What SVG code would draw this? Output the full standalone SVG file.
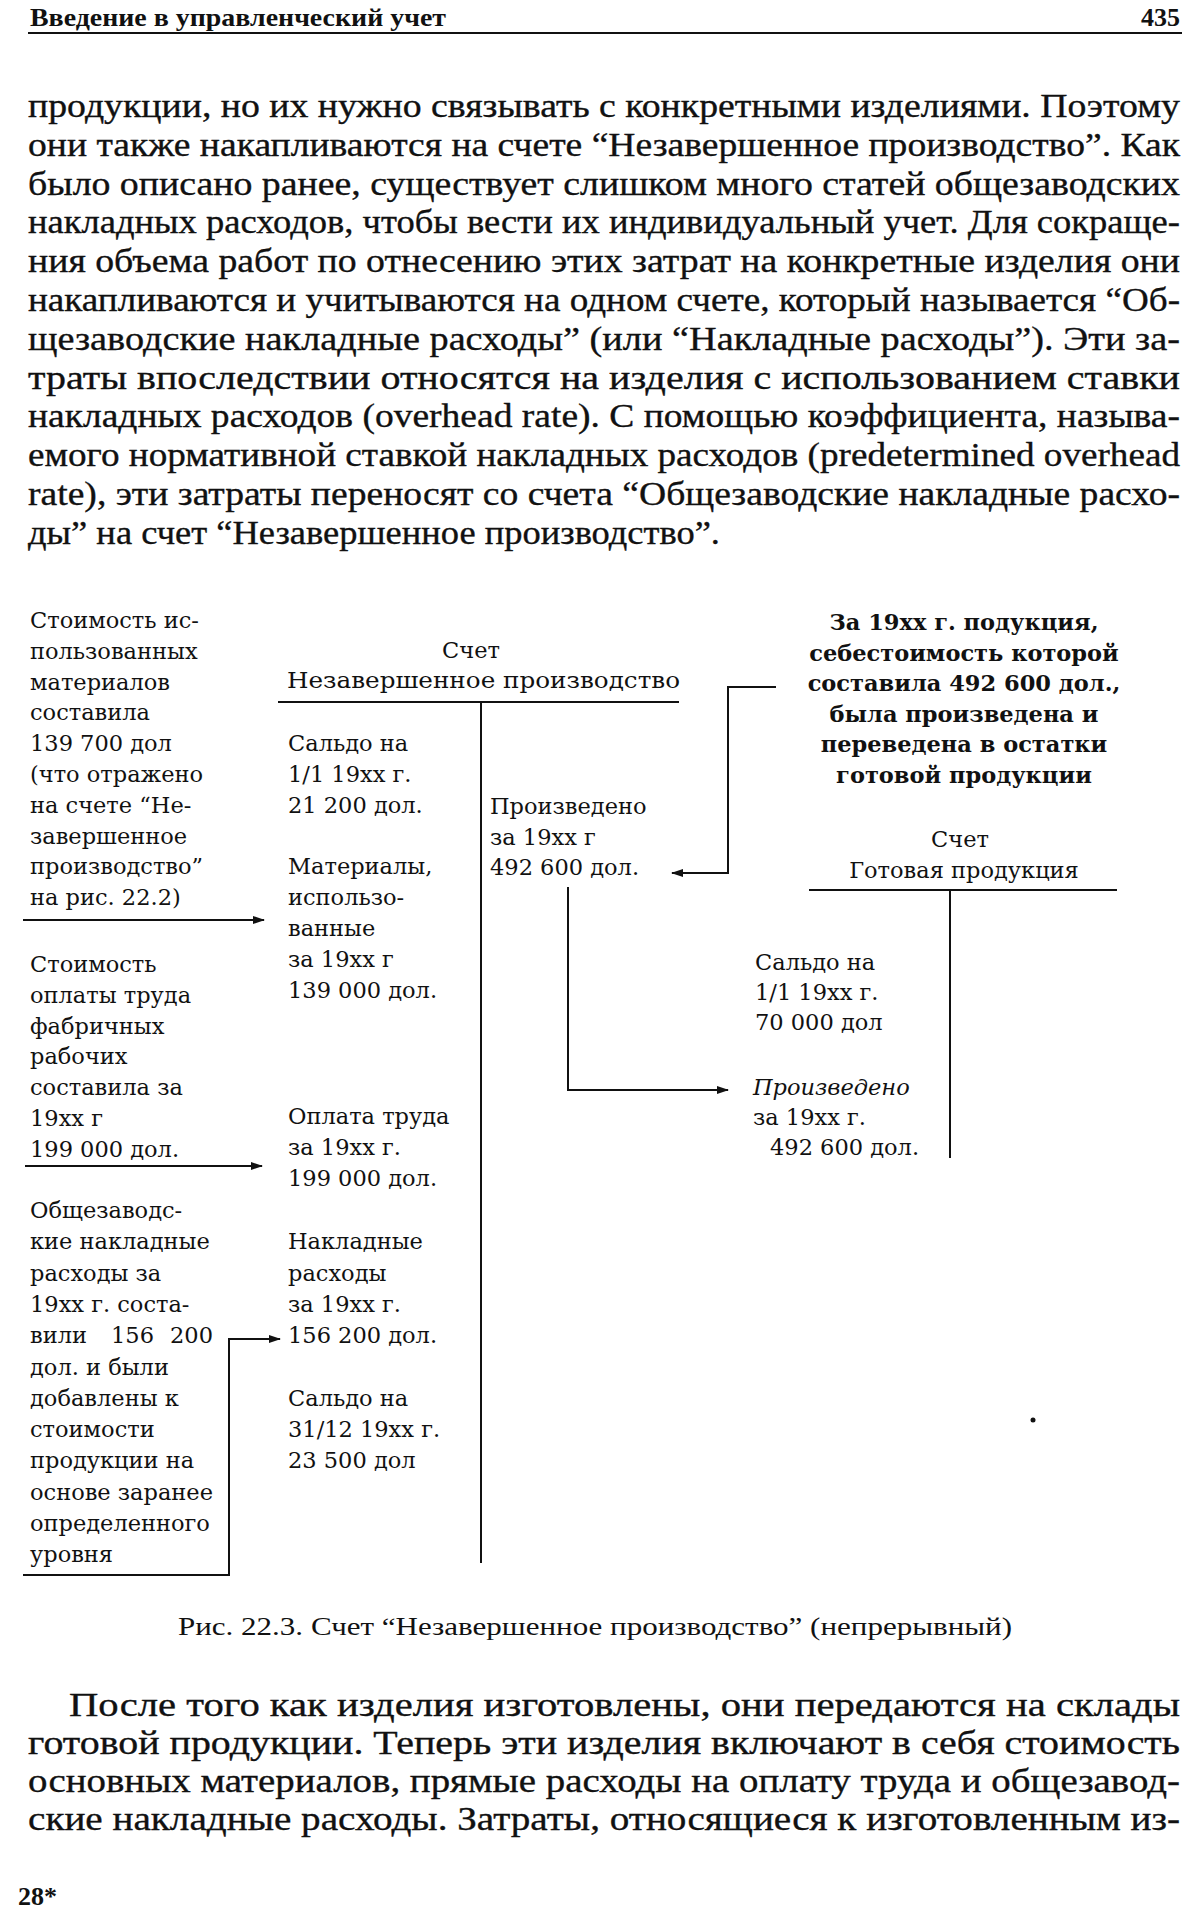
<svg xmlns="http://www.w3.org/2000/svg" width="1200" height="1912" viewBox="0 0 1200 1912">
<defs>
<style>
.p{font-family:"Liberation Serif","Times New Roman",serif;font-size:34px;fill:#111;stroke:#111;stroke-width:0.35}
.hd{font-family:"Liberation Serif","Times New Roman",serif;font-size:26px;font-weight:bold;fill:#111}
.cap{font-family:"Liberation Serif","Times New Roman",serif;font-size:25px;fill:#111}
.d{font-family:"DejaVu Serif",serif;font-size:22.5px;fill:#111}
.db{font-family:"DejaVu Serif",serif;font-size:22.5px;font-weight:bold;fill:#111}
.ln{stroke:#111;stroke-width:2;fill:none}
</style>
<marker id="ah" markerUnits="userSpaceOnUse" markerWidth="12" markerHeight="8" refX="11" refY="4" orient="auto">
<path d="M0,0 L12,4 L0,8 z" fill="#111"/>
</marker>
</defs>
<rect width="1200" height="1912" fill="#fff"/>

<g id="header">
<text class="hd" x="30" y="26" textLength="416" lengthAdjust="spacingAndGlyphs">Введение в управленческий учет</text>
<text class="hd" x="1180" y="26" text-anchor="end">435</text>
<line class="ln" x1="28" y1="33" x2="1182" y2="33" stroke-width="2.5"/>
</g>

<g id="paragraph1">
<text class="p" x="28" y="117" textLength="1152" lengthAdjust="spacingAndGlyphs">продукции, но их нужно связывать с конкретными изделиями. Поэтому</text>
<text class="p" x="28" y="155.8" textLength="1152" lengthAdjust="spacingAndGlyphs">они также накапливаются на счете “Незавершенное производство”. Как</text>
<text class="p" x="28" y="194.6" textLength="1152" lengthAdjust="spacingAndGlyphs">было описано ранее, существует слишком много статей общезаводских</text>
<text class="p" x="28" y="233.4" textLength="1152" lengthAdjust="spacingAndGlyphs">накладных расходов, чтобы вести их индивидуальный учет. Для сокраще-</text>
<text class="p" x="28" y="272.2" textLength="1152" lengthAdjust="spacingAndGlyphs">ния объема работ по отнесению этих затрат на конкретные изделия они</text>
<text class="p" x="28" y="311" textLength="1152" lengthAdjust="spacingAndGlyphs">накапливаются и учитываются на одном счете, который называется “Об-</text>
<text class="p" x="28" y="349.8" textLength="1152" lengthAdjust="spacingAndGlyphs">щезаводские накладные расходы”  (или “Накладные расходы”). Эти за-</text>
<text class="p" x="28" y="388.6" textLength="1152" lengthAdjust="spacingAndGlyphs">траты впоследствии относятся на изделия с использованием ставки</text>
<text class="p" x="28" y="427.4" textLength="1152" lengthAdjust="spacingAndGlyphs">накладных расходов (overhead rate). С помощью коэффициента, называ-</text>
<text class="p" x="28" y="466.2" textLength="1152" lengthAdjust="spacingAndGlyphs">емого нормативной ставкой накладных расходов (predetermined overhead</text>
<text class="p" x="28" y="505" textLength="1152" lengthAdjust="spacingAndGlyphs">rate), эти затраты переносят со счета “Общезаводские накладные расхо-</text>
<text class="p" x="28" y="543.8" textLength="692" lengthAdjust="spacingAndGlyphs">ды” на счет “Незавершенное производство”.</text>
</g>

<g id="note-materials">
<text class="d" x="30" y="628">Стоимость ис-</text>
<text class="d" x="30" y="658.8">пользованных</text>
<text class="d" x="30" y="689.6">материалов</text>
<text class="d" x="30" y="720.4">составила</text>
<text class="d" x="30" y="751.2">139 700 дол</text>
<text class="d" x="30" y="782">(что отражено</text>
<text class="d" x="30" y="812.8">на счете “Не-</text>
<text class="d" x="30" y="843.6">завершенное</text>
<text class="d" x="30" y="874.4">производство”</text>
<text class="d" x="30" y="905.2">на рис. 22.2)</text>
</g>

<g id="note-labor">
<text class="d" x="30" y="972">Стоимость</text>
<text class="d" x="30" y="1002.8">оплаты труда</text>
<text class="d" x="30" y="1033.6">фабричных</text>
<text class="d" x="30" y="1064.4">рабочих</text>
<text class="d" x="30" y="1095.2">составила за</text>
<text class="d" x="30" y="1126">19xx г</text>
<text class="d" x="30" y="1156.8">199 000 дол.</text>
</g>

<g id="note-overhead">
<text class="d" x="30" y="1218">Общезаводс-</text>
<text class="d" x="30" y="1249.3">кие накладные</text>
<text class="d" x="30" y="1280.6">расходы за</text>
<text class="d" x="30" y="1311.9">19xx г. соста-</text>
<text class="d" y="1343.2"><tspan x="30">вили</tspan><tspan x="111">156</tspan><tspan x="170">200</tspan></text>
<text class="d" x="30" y="1374.5">дол. и были</text>
<text class="d" x="30" y="1405.8">добавлены к</text>
<text class="d" x="30" y="1437.1">стоимости</text>
<text class="d" x="30" y="1468.4">продукции на</text>
<text class="d" x="30" y="1499.7">основе заранее</text>
<text class="d" x="30" y="1531">определенного</text>
<text class="d" x="30" y="1562.3">уровня</text>
</g>

<g id="account-wip">
<text class="d" x="471" y="658" text-anchor="middle">Счет</text>
<text class="d" x="287" y="688" textLength="393" lengthAdjust="spacingAndGlyphs">Незавершенное производство</text>
<text class="d" x="288" y="751.2">Сальдо на</text>
<text class="d" x="288" y="782">1/1 19xx г.</text>
<text class="d" x="288" y="812.8">21 200 дол.</text>
<text class="d" x="288" y="874.4">Материалы,</text>
<text class="d" x="288" y="905.2">использо-</text>
<text class="d" x="288" y="936">ванные</text>
<text class="d" x="288" y="966.8">за 19xx г</text>
<text class="d" x="288" y="997.6">139 000 дол.</text>
<text class="d" x="288" y="1124">Оплата труда</text>
<text class="d" x="288" y="1155">за 19xx г.</text>
<text class="d" x="288" y="1186">199 000 дол.</text>
<text class="d" x="288" y="1249.3">Накладные</text>
<text class="d" x="288" y="1280.6">расходы</text>
<text class="d" x="288" y="1311.9">за 19xx г.</text>
<text class="d" x="288" y="1343.2">156 200 дол.</text>
<text class="d" x="288" y="1405.8">Сальдо на</text>
<text class="d" x="288" y="1437.1">31/12 19xx г.</text>
<text class="d" x="288" y="1468.4">23 500 дол</text>
<text class="d" x="490" y="814">Произведено</text>
<text class="d" x="490" y="845">за 19xx г</text>
<text class="d" x="490" y="875">492 600 дол.</text>
</g>

<g id="note-finished">
<text class="db" x="964" y="630" text-anchor="middle">За 19xx г. подукция,</text>
<text class="db" x="964" y="660.5" text-anchor="middle">себестоимость которой</text>
<text class="db" x="964" y="691" text-anchor="middle">составила 492 600 дол.,</text>
<text class="db" x="964" y="721.5" text-anchor="middle">была произведена и</text>
<text class="db" x="964" y="752" text-anchor="middle">переведена в остатки</text>
<text class="db" x="964" y="782.5" text-anchor="middle">готовой продукции</text>
</g>

<g id="account-finished">
<text class="d" x="960" y="847" text-anchor="middle">Счет</text>
<text class="d" x="964" y="878" text-anchor="middle">Готовая продукция</text>
<text class="d" x="755" y="970">Сальдо на</text>
<text class="d" x="755" y="1000">1/1 19xx г.</text>
<text class="d" x="755" y="1030">70 000 дол</text>
<text class="d" x="753" y="1095" font-style="italic">Произведено</text>
<text class="d" x="753" y="1125">за 19xx г.</text>
<text class="d" x="770" y="1155">492 600 дол.</text>
</g>

<g id="connectors">
<line class="ln" x1="23" y1="920" x2="264" y2="920" marker-end="url(#ah)"/>
<line class="ln" x1="25" y1="1166" x2="262" y2="1166" marker-end="url(#ah)"/>
<polyline class="ln" points="23,1575 229,1575 229,1339 280,1339" marker-end="url(#ah)"/>
<line class="ln" x1="278" y1="702" x2="679" y2="702"/>
<line class="ln" x1="481" y1="702" x2="481" y2="1563"/>
<polyline class="ln" points="776,687 728,687 728,873 672,873" marker-end="url(#ah)"/>
<polyline class="ln" points="568,887 568,1090 728,1090" marker-end="url(#ah)"/>
<line class="ln" x1="809" y1="890" x2="1117" y2="890"/>
<line class="ln" x1="950" y1="890" x2="950" y2="1158"/>
<circle cx="1033" cy="1420" r="2.5" fill="#111"/>
</g>

<g id="caption">
<text class="cap" x="178" y="1635" textLength="834" lengthAdjust="spacingAndGlyphs">Рис. 22.3. Счет “Незавершенное производство” (непрерывный)</text>
</g>

<g id="paragraph2">
<text class="p" x="69" y="1716" textLength="1111" lengthAdjust="spacingAndGlyphs">После того как изделия изготовлены, они передаются на склады</text>
<text class="p" x="28" y="1754" textLength="1152" lengthAdjust="spacingAndGlyphs">готовой продукции. Теперь эти изделия включают в себя стоимость</text>
<text class="p" x="28" y="1792" textLength="1152" lengthAdjust="spacingAndGlyphs">основных материалов, прямые расходы на оплату труда и общезавод-</text>
<text class="p" x="28" y="1830" textLength="1152" lengthAdjust="spacingAndGlyphs">ские накладные расходы. Затраты, относящиеся к изготовленным из-</text>
</g>

<g id="footer">
<text class="hd" x="18" y="1905" font-size="28">28*</text>
</g>
</svg>
